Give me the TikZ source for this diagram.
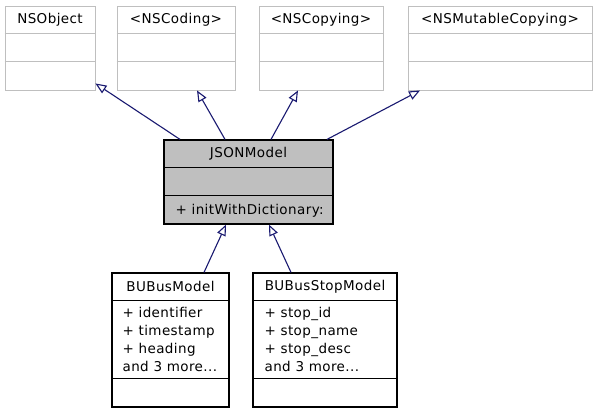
\documentclass[tikz,border=0pt]{standalone}
\usepackage{fontspec}
\setmainfont{DejaVu Sans}[LetterSpace=3]
\usetikzlibrary{arrows.meta}

\definecolor{edgeblue}{HTML}{191970}
\definecolor{boxgray}{HTML}{BFBFBF}

\begin{document}
\begin{tikzpicture}[
  x=1pt, y=-1pt,
  font=\fontsize{13.5}{18}\selectfont,
  extbox/.style={draw=boxgray, line width=0.9pt, minimum height=84pt, inner sep=0pt},
  classbox/.style={draw=black, line width=1.2pt, inner sep=0pt},
  divider/.style={line width=0.9pt},
  title/.style={inner sep=0pt},
  members/.style={anchor=west, align=left, inner sep=0pt},
  inherit/.style={edgeblue, line width=1.1pt, -{Triangle[open, length=11pt, width=9pt, fill=white]}}
]
\useasboundingbox (0,0) rectangle (597,413);

% base classes and protocols
\foreach \name/\cx/\boxw/\txt in {nsobject/50/90/NSObject, nscoding/176/118/{<NSCoding>},
    nscopying/321/124/{<NSCopying>}, nsmutable/500/184/{<NSMutableCopying>}} {
  \node[extbox, minimum width=\boxw pt] (\name) at (\cx,48) {};
  \node[title] at ([yshift=-14pt]\name.north) {\txt};
  \draw[divider, boxgray] ([yshift=-28pt]\name.north west) -- ([yshift=-28pt]\name.north east);
  \draw[divider, boxgray] ([yshift=-56pt]\name.north west) -- ([yshift=-56pt]\name.north east);
}

% JSONModel
\node[classbox, fill=boxgray, minimum width=169pt, minimum height=84pt] (jsonmodel) at (248.5,182) {};
\node[title] at ([yshift=-14pt]jsonmodel.north) {JSONModel};
\draw[divider, line width=1.2pt] ([yshift=-28pt]jsonmodel.north west) -- ([yshift=-28pt]jsonmodel.north east);
\draw[divider, line width=1.2pt] ([yshift=-56pt]jsonmodel.north west) -- ([yshift=-56pt]jsonmodel.north east);
\node[members] at ([xshift=12pt, yshift=-71pt]jsonmodel.north west) {+ initWithDictionary:};

% subclasses
\node[classbox, minimum width=117pt, minimum height=134pt] (bubus) at (170.5,340) {};
\node[title] at ([yshift=-14pt]bubus.north) {BUBusModel};
\draw[divider, line width=1.2pt] ([yshift=-28pt]bubus.north west) -- ([yshift=-28pt]bubus.north east);
\draw[divider, line width=1.2pt] ([yshift=-106pt]bubus.north west) -- ([yshift=-106pt]bubus.north east);
\node[members] at ([xshift=11pt, yshift=-67pt]bubus.north west)
  {+ identifier\\+ timestamp\\+ heading\\and 3 more...};

\node[classbox, minimum width=144pt, minimum height=134pt] (bustop) at (325,340) {};
\node[title] at ([yshift=-14pt]bustop.north) {BUBusStopModel};
\draw[divider, line width=1.2pt] ([yshift=-28pt]bustop.north west) -- ([yshift=-28pt]bustop.north east);
\draw[divider, line width=1.2pt] ([yshift=-106pt]bustop.north west) -- ([yshift=-106pt]bustop.north east);
\node[members] at ([xshift=12pt, yshift=-67pt]bustop.north west)
  {+ stop\_id\\+ stop\_name\\+ stop\_desc\\and 3 more...};

% inheritance
\draw[inherit] ([xshift=-68.5pt]jsonmodel.north) -- ([yshift=7pt]nsobject.south east);
\draw[inherit] ([xshift=-23.5pt]jsonmodel.north) -- ([xshift=21pt]nscoding.south);
\draw[inherit] ([xshift=22.5pt]jsonmodel.north) -- ([xshift=-23pt]nscopying.south);
\draw[inherit] ([xshift=78.5pt]jsonmodel.north) -- ([xshift=-80pt]nsmutable.south);
\draw[inherit] ([xshift=33.5pt]bubus.north) -- ([xshift=-22.5pt]jsonmodel.south);
\draw[inherit] ([xshift=-34pt]bustop.north) -- ([xshift=20.5pt]jsonmodel.south);
\end{tikzpicture}
\end{document}
